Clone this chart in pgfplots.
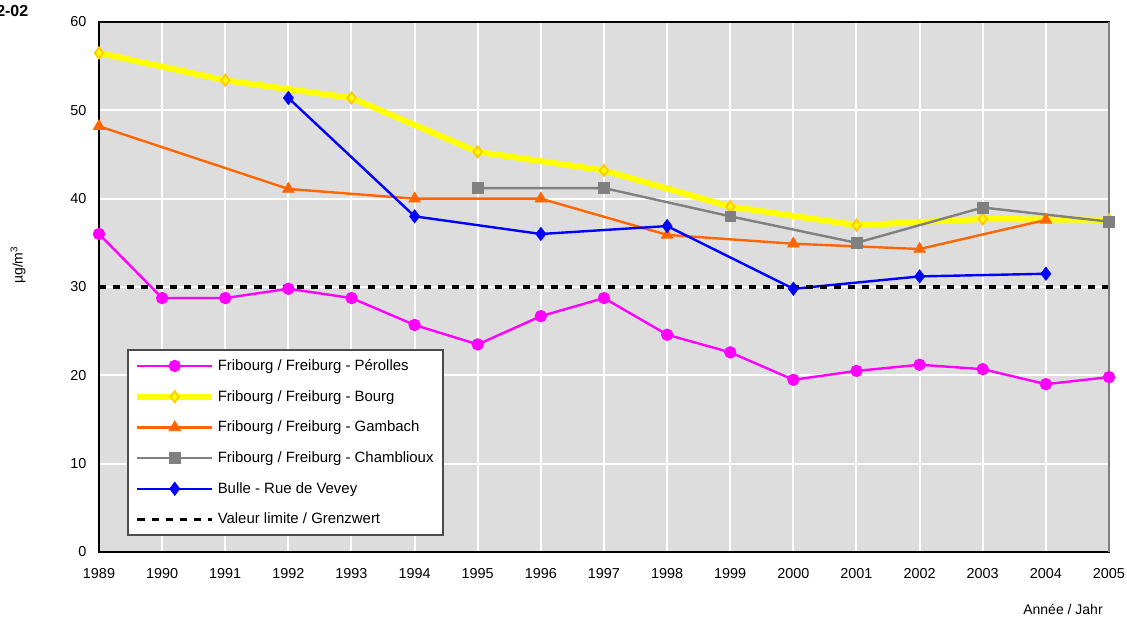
\documentclass[border=0pt]{standalone}
\usepackage{fontspec}
\setmainfont{Liberation Sans}
\usepackage{pgfplots}
\pgfplotsset{compat=1.18}
\definecolor{bgc}{RGB}{221,221,221}
\definecolor{mag}{RGB}{255,0,255}
\definecolor{yel}{RGB}{255,255,0}
\definecolor{yelmark}{RGB}{255,200,0}
\definecolor{ora}{RGB}{255,102,0}
\definecolor{gry}{RGB}{128,128,128}
\definecolor{blu}{RGB}{0,0,255}
\begin{document}
\begin{tikzpicture}
\begin{axis}[
  scale only axis,
  width=757.5pt, height=397.5pt,
  xmin=1989, xmax=2005, ymin=0, ymax=60,
  xtick={1989,...,2005}, ytick={0,10,...,60},
  major tick length=0pt,
  /pgf/number format/assume math mode=true,
  xticklabel style={/pgf/number format/set thousands separator={}, font=\fontsize{10.8pt}{12pt}\selectfont, yshift=-9pt},
  yticklabel style={font=\fontsize{10.8pt}{12pt}\selectfont, xshift=-6pt},
  grid=major,
  grid style={white, line width=1.5pt},
  axis background/.style={fill=bgc},
  axis line style={black, line width=0.8pt},
  clip=false,
  legend cell align=left,
  legend style={at={(axis description cs:0.0277,0.0302)}, anchor=south west,
    draw=black!70, line width=1.2pt, fill=white,
    font=\fontsize{11.2pt}{13pt}\selectfont,
    row sep=9.4pt, inner xsep=5pt, inner ysep=5pt},
  legend image code/.code={\draw[mark repeat=2,mark phase=2] plot coordinates {(0pt,0pt) (28pt,0pt) (56pt,0pt)};},
]
\addplot[mag, line width=1.8pt, mark=*, mark size=3.7pt, mark options={fill=mag, draw=mag}] coordinates {
(1989,36.0) (1990,28.75) (1991,28.75) (1992,29.8) (1993,28.75) (1994,25.7) (1995,23.5) (1996,26.7) (1997,28.75) (1998,24.6) (1999,22.6) (2000,19.5) (2001,20.5) (2002,21.2) (2003,20.7) (2004,19.0) (2005,19.8)};
\addlegendentry{Fribourg / Freiburg - Pérolles}
\addplot[yel, line width=4.5pt, mark=diamond*, mark size=4.2pt, mark options={fill=yel, draw=yelmark, line width=1.3pt}] coordinates {
(1989,56.5) (1991,53.4) (1993,51.4) (1995,45.3) (1997,43.2) (1999,39.1) (2001,37.0) (2003,37.7) (2005,37.6)};
\addlegendentry{Fribourg / Freiburg - Bourg}
\addplot[ora, line width=1.8pt, mark=triangle*, mark size=5pt, mark options={fill=ora, draw=ora, line width=0.5pt}] coordinates {
(1989,48.2) (1992,41.1) (1994,40.0) (1996,40.0) (1998,35.9) (2000,34.9) (2002,34.3) (2004,37.6)};
\addlegendentry{Fribourg / Freiburg - Gambach}
\addplot[gry, line width=1.8pt, mark=square*, mark size=4pt, mark options={fill=gry, draw=gry, line width=0.5pt}] coordinates {
(1995,41.2) (1997,41.2) (1999,38.0) (2001,35.0) (2003,39.0) (2005,37.4)};
\addlegendentry{Fribourg / Freiburg - Chamblioux}
\addplot[blu, line width=1.8pt, mark=diamond*, mark size=5pt, mark options={fill=blu, draw=blu, line width=0.5pt}] coordinates {
(1992,51.4) (1994,38.0) (1996,36.0) (1998,36.9) (2000,29.8) (2002,31.2) (2004,31.5)};
\addlegendentry{Bulle - Rue de Vevey}
\addplot[black, line width=2.3pt, dash pattern=on 5.3pt off 5.3pt] coordinates {(1989,30) (2005,30)};
\addlegendentry{Valeur limite / Grenzwert}
\draw[gry, line width=1.2pt] (axis cs:2005,0) -- (axis cs:2005,60);
\end{axis}
\node[anchor=east, font=\bfseries\fontsize{12pt}{14pt}\selectfont] at (-49.5pt,405.75pt) {2-02};
\node[rotate=90, font=\fontsize{10.5pt}{12pt}\selectfont] at (-60.75pt,215.25pt) {µg/m\textsuperscript{3}};
\node[font=\fontsize{10.5pt}{12pt}\selectfont] at (723pt,-42.75pt) {Année / Jahr};
\pgfresetboundingbox
\useasboundingbox (-74.25pt,-50.25pt) rectangle (771pt,414pt);
\end{tikzpicture}
\end{document}
